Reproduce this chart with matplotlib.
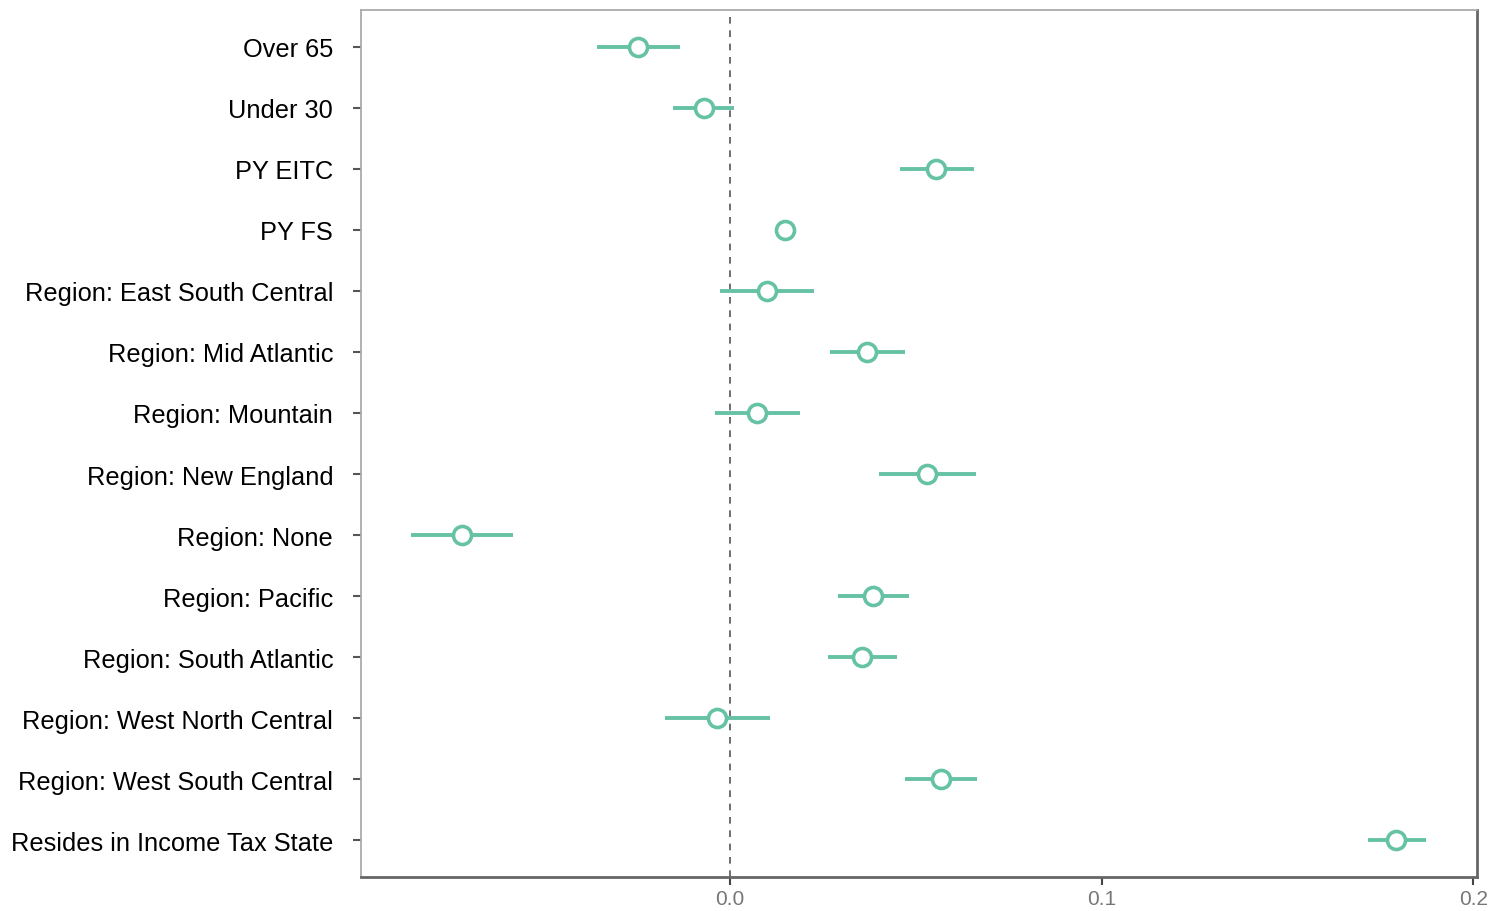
import numpy as np
import matplotlib
matplotlib.use("Agg")
import matplotlib.pyplot as plt

plt.rcParams['font.family'] = ['Liberation Sans', 'DejaVu Sans']

labels = ["Over 65", "Under 30", "PY EITC", "PY FS",
          "Region: East South Central", "Region: Mid Atlantic",
          "Region: Mountain", "Region: New England", "Region: None",
          "Region: Pacific", "Region: South Atlantic",
          "Region: West North Central", "Region: West South Central",
          "Resides in Income Tax State"]
est = [-0.0248, -0.0070, 0.0555, 0.0148, 0.0100, 0.0369, 0.0073,
       0.0530, -0.0721, 0.0385, 0.0355, -0.0035, 0.0568, 0.1793]
lo = [-0.0358, -0.0153, 0.0458, 0.0140, -0.0027, 0.0269, -0.0040,
      0.0401, -0.0859, 0.0291, 0.0264, -0.0175, 0.0471, 0.1717]
hi = [-0.0135, 0.0011, 0.0657, 0.0156, 0.0226, 0.0471, 0.0188,
      0.0662, -0.0584, 0.0482, 0.0450, 0.0108, 0.0665, 0.1873]

green = "#66c2a5"
fig = plt.figure(figsize=(14.91, 9.12), dpi=100)
ax = fig.add_axes([0.2421, 0.0373, 0.9906 - 0.2421, 0.9879 - 0.0373])

y = np.arange(len(labels))
ax.hlines(y, lo, hi, color=green, lw=2.8, zorder=2)
ax.plot(est, y, 'o', ms=13, mfc='white', mec=green, mew=2.6, zorder=3)
ax.axvline(0, color='#555555', ls=(0, (4, 4)), lw=1.2, zorder=1)

ax.set_xlim(-0.0993, 0.201)
ax.set_ylim(len(labels) - 0.4, -0.6)
ax.set_yticks(y)
ax.set_yticklabels(labels, fontsize=18.3, color='black')
ax.set_xticks([0.0, 0.1, 0.2])
ax.set_xticklabels(["0.0", "0.1", "0.2"], fontsize=15, color='#777777')
ax.tick_params(axis='y', length=6, width=1.5, color='#555555', pad=14)
ax.tick_params(axis='x', length=6, width=1.5, color='#444444', pad=3)

for s in ['top', 'left']:
    ax.spines[s].set_color('#aaaaaa')
    ax.spines[s].set_linewidth(1.3)
for s in ['bottom', 'right']:
    ax.spines[s].set_color('#666666')
    ax.spines[s].set_linewidth(2)

plt.savefig('out.png', dpi=100)
